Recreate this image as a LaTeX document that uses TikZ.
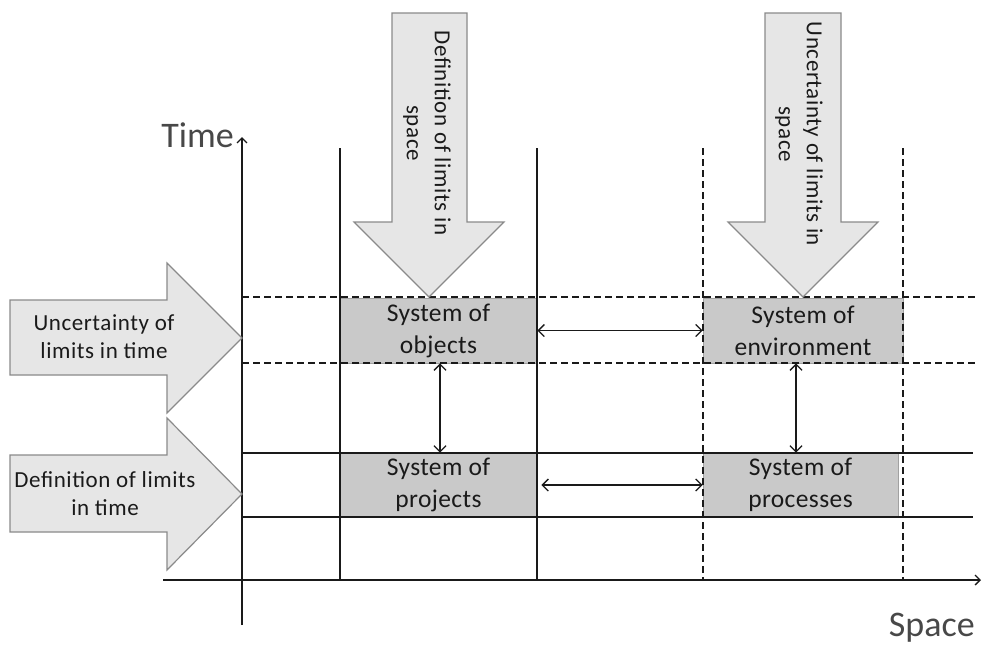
\documentclass[tikz,border=0pt]{standalone}
\usepackage{fontspec}
\setmainfont{Carlito}
\usetikzlibrary{arrows.meta,calc}
\definecolor{arrowfill}{HTML}{E6E6E6}
\definecolor{arrowedge}{HTML}{8A8A8A}
\definecolor{boxfill}{HTML}{C9C9C9}
\definecolor{ink}{HTML}{1A1A1A}
\tikzset{
  gridsolid/.style={draw=ink, line width=1.3pt},
  griddashed/.style={draw=ink, line width=1.3pt, dash pattern=on 7pt off 4pt},
  bigarrow/.style={fill=arrowfill, draw=arrowedge, line width=1.2pt, line join=miter},
  sysbox/.style={fill=boxfill, draw=boxfill!80!black, line width=0.8pt, inner sep=0pt,
    align=center, font=\fontsize{25.5}{32}\selectfont\addfontfeatures{LetterSpace=1.5}, text=ink},
  link/.style={draw=ink, line width=1.3pt,
    {Straight Barb[length=6pt,width=12pt]}-{Straight Barb[length=6pt,width=12pt]}},
  axis/.style={draw=ink, line width=1.3pt, -{Straight Barb[length=5pt,width=10pt]}},
  arrowtext/.style={align=center, font=\fontsize{23}{28}\selectfont\addfontfeatures{LetterSpace=2.5}, text=ink},
  axislabel/.style={font=\fontsize{36}{40}\selectfont, text=ink!80!white, inner sep=0pt},
}
\begin{document}
\begin{tikzpicture}[x=1pt,y=-1pt]
\useasboundingbox (0,0) rectangle (983,649);

% the four systems
\node[sysbox, minimum width=197pt, minimum height=65pt] (obj)  at (438.5,330.5) {System of\\objects};
\node[sysbox, minimum width=200pt, minimum height=65pt] (env)  at (803,330.5)   {System of\\environment};
\node[sysbox, minimum width=197pt, minimum height=64pt] (proj) at (438.5,485)   {System of\\projects};
\node[sysbox, minimum width=195pt, minimum height=64pt] (proc) at (800.5,485)   {System of\\processes};

% limits in space (vertical) and in time (horizontal)
\draw[gridsolid]  (340,148) -- (340,580);
\draw[gridsolid]  (537,148) -- (537,580);
\draw[griddashed] (703,148) -- (703,580);
\draw[griddashed] (903,148) -- (903,580);
\draw[griddashed] (242,297) -- (975,297);
\draw[griddashed] (242,363) -- (975,363);
\draw[gridsolid]  (242,453) -- (973,453);
\draw[gridsolid]  (242,517) -- (973,517);

% axes
\draw[axis] (242,625) -- (242,137);
\draw[axis] (163,580) -- (981,580);
\node[axislabel, anchor=base east] (tlabel) at (234,147) {Time};
\node[axislabel, anchor=base east] (slabel) at (975,636) {Space};

% relations between the systems
\draw[link] (obj.east) -- (env.west);
\draw[link] ([xshift=4pt]proj.east) -- (proc.west);
\draw[link] ([xshift=1.5pt]obj.south) -- ([xshift=1.5pt]obj.south |- proj.north);
\draw[link] ([xshift=-7pt]env.south) -- ([xshift=-7pt]env.south |- proc.north);

% block arrows
\draw[bigarrow] (392,13) -- (467,13) -- (467,222) -- (504,222) -- (429,297)
  -- (354,222) -- (392,222) -- cycle;
\draw[bigarrow] (765,13) -- (841,13) -- (841,222) -- (878,222) -- (803,297)
  -- (728,222) -- (765,222) -- cycle;
\draw[bigarrow] (10,300) -- (167,300) -- (167,263) -- (242,338) -- (167,413)
  -- (167,375) -- (10,375) -- cycle;
\draw[bigarrow] (10,455) -- (167,455) -- (167,418) -- (242,494) -- (167,570)
  -- (167,532) -- (10,532) -- cycle;

\node[arrowtext, rotate=-90] (dls) at (427,133) {Definition of limits in\\space};
\node[arrowtext, rotate=-90] (uls) at (799,134) {Uncertainty of limits in\\space};
\node[arrowtext] (ult) at (104,337) {Uncertainty of\\limits in time};
\node[arrowtext] (dlt) at (105,494) {Definition of limits\\in time};
\end{tikzpicture}
\end{document}
